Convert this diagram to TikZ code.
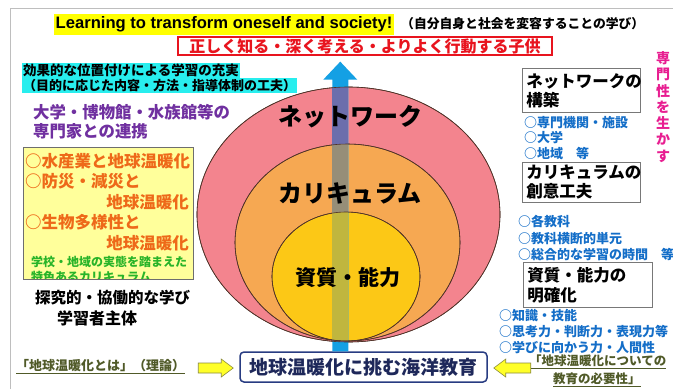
\documentclass[tikz,border=0pt]{standalone}
\usepackage{fontspec}
\setmainfont{Noto Sans CJK JP}
\newfontfamily\lat{Liberation Sans}
\usetikzlibrary{calc}
\newcommand{\myfs}[1]{\fontsize{#1}{#1}\selectfont}
\definecolor{framegray}{RGB}{190,190,190}
\definecolor{titleY}{RGB}{255,255,0}
\definecolor{goalred}{RGB}{232,20,30}
\definecolor{cyanc}{RGB}{40,238,238}
\definecolor{purpc}{RGB}{112,48,160}
\definecolor{ybfill}{RGB}{255,255,155}
\definecolor{ybedge}{RGB}{110,110,110}
\definecolor{orangetx}{RGB}{238,105,25}
\definecolor{greentx}{RGB}{40,180,40}
\definecolor{bluetx}{RGB}{20,110,200}
\definecolor{magtx}{RGB}{232,30,145}
\definecolor{pinkE}{RGB}{243,132,142}
\definecolor{orangeE}{RGB}{246,168,82}
\definecolor{yellowE}{RGB}{252,200,22}
\definecolor{ellline}{RGB}{80,50,40}
\definecolor{arrowB}{RGB}{20,160,228}
\definecolor{arrPink}{RGB}{108,110,172}
\definecolor{arrOrange}{RGB}{150,142,120}
\definecolor{arrYellow}{RGB}{192,182,62}
\definecolor{oceanedge}{RGB}{40,60,130}
\definecolor{oceantx}{RGB}{30,40,90}
\definecolor{olivetx}{RGB}{80,90,40}
\definecolor{yarrfill}{RGB}{255,255,40}
\definecolor{yarredge}{RGB}{140,140,60}
\definecolor{boxgray}{RGB}{120,120,120}
\begin{document}
\begin{tikzpicture}[x=1pt,y=-1pt,
  txt/.style={inner sep=0pt, anchor=west},
  hl/.style={anchor=west, inner xsep=1pt, inner ysep=0pt, minimum height=15.5pt, fill=cyanc},
  rbox/.style={draw=boxgray, line width=0.8pt, fill=white, anchor=north west, align=left, inner xsep=4pt, inner ysep=0pt, font=\bfseries\fontsize{16.5}{19}\selectfont},
  ell/.style={draw=ellline, line width=0.6pt},
  yarrow/.style={draw=yarredge, line width=0.6pt, fill=yarrfill},
  bigl/.style={inner sep=0pt, font=\bfseries\myfs{24}}
]
\useasboundingbox (0,0) rectangle (673,389);
\fill[white] (0,0) rectangle (673,389);
\draw[framegray, line width=1pt] (10,389) -- (10,8) -- (673,8);

% title
\node[anchor=west, fill=titleY, inner xsep=1.5pt, inner ysep=0pt, minimum height=21pt, font=\lat\bfseries\myfs{16.6}] (title) at (54,24) {Learning to transform oneself and society!};
\node[txt, font=\bfseries\myfs{12.8}] (titlejp) at (401,24) {（自分自身と社会を変容することの学び）};

% goal box
\node[draw=goalred, line width=1.3pt, text=goalred, minimum width=374pt, minimum height=18pt, inner sep=0pt, font=\bfseries\myfs{16}] (goal) at (365,46) {正しく知る・深く考える・よりよく行動する子供};

% cyan lines
\node[hl, font=\bfseries\myfs{13.5}] (eff1) at (22,70.5) {効果的な位置付けによる学習の充実};
\node[hl, font=\bfseries\myfs{13}] (eff2) at (22,85.5) {（目的に応じた内容・方法・指導体制の工夫）};

% purple
\node[txt, text=purpc, font=\bfseries\myfs{16.4}] (uni1) at (33,112) {大学・博物館・水族館等の};
\node[txt, text=purpc, font=\bfseries\myfs{16.4}] (uni2) at (33,131) {専門家との連携};

% yellow box
\node[draw=ybedge, line width=0.8pt, fill=ybfill, anchor=north west, minimum width=170pt, minimum height=132pt, inner sep=0pt] (ybox) at (23,147) {};
\node[txt, text=orangetx, font=\bfseries\myfs{16.5}] (o1) at (25,161) {○水産業と地球温暖化};
\node[txt, text=orangetx, font=\bfseries\myfs{16.5}] (o2) at (25,181) {○防災・減災と};
\node[inner sep=0pt, anchor=east, text=orangetx, font=\bfseries\myfs{16.5}] (o3) at (189,202) {地球温暖化};
\node[txt, text=orangetx, font=\bfseries\myfs{16.5}] (o4) at (25,222) {○生物多様性と};
\node[inner sep=0pt, anchor=east, text=orangetx, font=\bfseries\myfs{16.5}] (o5) at (189,243) {地球温暖化};
\node[txt, text=greentx, font=\bfseries\myfs{12}] (g1) at (31,262) {学校・地域の実態を踏まえた};
\begin{scope}
\clip (23,147) rectangle (193,278.6);
\node[txt, text=greentx, font=\bfseries\myfs{12}] (g2) at (31,277) {特色あるカリキュラム};
\end{scope}
\draw[ybedge, line width=0.8pt] (ybox.north west) rectangle (ybox.south east);

% black text
\node[txt, font=\bfseries\myfs{15.5}] (inq) at (35,298) {探究的・協働的な学び};
\node[txt, font=\bfseries\myfs{16}] (lrn) at (57,318) {学習者主体};

% ellipses
\path[ell, fill=pinkE] (348.5,214.5) ellipse [x radius=151.5, y radius=127.5];
\path[ell, fill=orangeE] (347.5,242.5) ellipse [x radius=112.5, y radius=98.5];
\path[ell, fill=yellowE] (346,276.5) ellipse [x radius=74, y radius=64.5];

% bottom ocean box
\node[draw=oceanedge, line width=1.5pt, rounded corners=4pt, fill=white, text=oceantx, minimum width=247pt, minimum height=30pt, inner sep=0pt, font=\bfseries\myfs{19}] (ocean) at (363.5,367) {地球温暖化に挑む海洋教育};

% central arrow
\coordinate (abot) at ($(ocean.north west)+(101,0)$);
\coordinate (atip) at (abot |- goal.south);
\coordinate (atip) at ($(atip)+(0,6)$);
\fill[arrowB] ($(abot)+(-8,0)$) -- ($(atip)+(-8,18)$) -- ($(atip)+(-17,18)$) -- (atip) -- ($(atip)+(17,18)$) -- ($(atip)+(8,18)$) -- ($(abot)+(8,0)$) -- cycle;
\begin{scope}
\clip (348.5,214.5) ellipse [x radius=151.5, y radius=127.5];
\fill[arrPink] ($(atip)+(-8,18)$) rectangle ($(abot)+(8,0)$);
\end{scope}
\begin{scope}
\clip (347.5,242.5) ellipse [x radius=112.5, y radius=98.5];
\fill[arrOrange] ($(atip)+(-8,18)$) rectangle ($(abot)+(8,0)$);
\end{scope}
\begin{scope}
\clip (346,276.5) ellipse [x radius=74, y radius=64.5];
\fill[arrYellow] ($(atip)+(-8,18)$) rectangle ($(abot)+(8,0)$);
\end{scope}
\draw[ell] (348.5,214.5) ellipse [x radius=151.5, y radius=127.5];
\draw[ell] (347.5,242.5) ellipse [x radius=112.5, y radius=98.5];
\draw[ell] (346,276.5) ellipse [x radius=74, y radius=64.5];

% ellipse labels
\node[bigl] (net) at (350,117) {ネットワーク};
\node[bigl] (cur) at (350,193) {カリキュラム};
\node[bigl, font=\bfseries\myfs{21}] (abil) at (348,278) {資質・能力};

% right column
\node[rbox, minimum width=118pt, minimum height=44pt, text width=110pt] (netbox) at (522,68) {ネットワークの\\構築};
\node[txt, text=bluetx, font=\bfseries\myfs{13}] (l11) at (524,123) {○専門機関・施設};
\node[txt, text=bluetx, font=\bfseries\myfs{13}] (l12) at (524,138) {○大学};
\node[txt, text=bluetx, font=\bfseries\myfs{13}] (l13) at (524,153) {○地域　等};
\node[rbox, minimum width=118pt, minimum height=40pt, text width=110pt] (curbox) at (522,162) {カリキュラムの\\創意工夫};
\node[txt, text=bluetx, font=\bfseries\myfs{13}] (l21) at (518,222) {○各教科};
\node[txt, text=bluetx, font=\bfseries\myfs{13}] (l22) at (518,239) {○教科横断的単元};
\node[txt, text=bluetx, font=\bfseries\myfs{13}] (l23) at (518,255) {○総合的な学習の時間　等};
\node[rbox, minimum width=129pt, minimum height=45pt, text width=121pt, font=\bfseries\fontsize{16.5}{20}\selectfont] (abilbox) at (523,262) {資質・能力の\\明確化};
\node[txt, text=bluetx, font=\bfseries\myfs{13}] (l31) at (499,316) {○知識・技能};
\node[txt, text=bluetx, font=\bfseries\myfs{13}] (l32) at (499,332) {○思考力・判断力・表現力等};
\node[txt, text=bluetx, font=\bfseries\myfs{13}] (l33) at (499,348) {○学びに向かう力・人間性};

% vertical magenta text
\node[inner sep=0pt, align=center, text=magtx, font=\bfseries\fontsize{14}{16.3}\selectfont] (expert) at (663,107) {専\\門\\性\\を\\生\\か\\す};

% bottom texts and yellow arrows
\node[txt, text=olivetx, font=\bfseries\myfs{13}] (theory) at (16,367) {\underline{「地球温暖化とは」（理論）}};
\node[txt, text=olivetx, font=\bfseries\myfs{12.5}] (need1) at (529,362) {\underline{「地球温暖化についての}};
\node[txt, text=olivetx, font=\bfseries\myfs{12.5}] (need2) at (553,380) {\underline{教育の必要性」}};
\coordinate (lt) at ($(ocean.west)+(-6,1)$);
\draw[yarrow] (lt) -- ++(-12,-9) -- ++(0,4) -- ++(-23,0) -- ++(0,10) -- ++(23,0) -- ++(0,4) -- cycle;
\coordinate (rt) at ($(ocean.east)+(6,1)$);
\draw[yarrow] (rt) -- ++(12,-9) -- ++(0,4) -- ++(25,0) -- ++(0,10) -- ++(-25,0) -- ++(0,4) -- cycle;
\end{tikzpicture}
\end{document}
